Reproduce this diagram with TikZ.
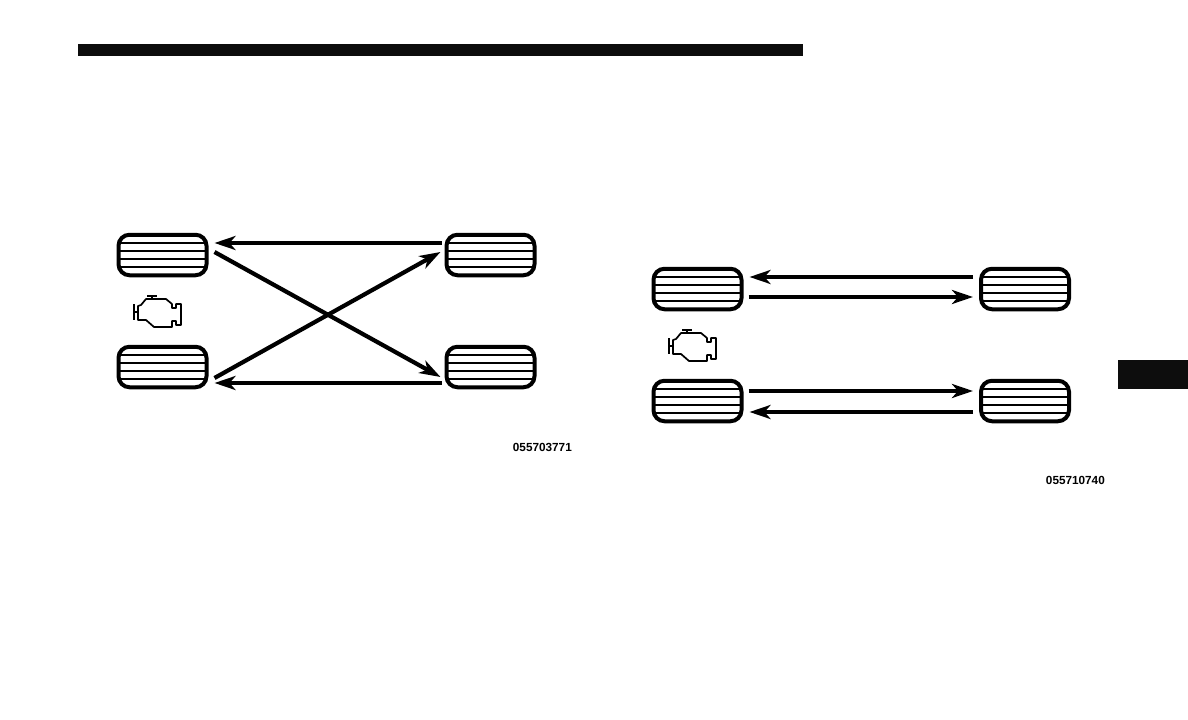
\documentclass[tikz,border=0pt]{standalone}
\usepackage{fontspec}
\setmainfont{Liberation Sans}
\usetikzlibrary{arrows.meta}

\begin{document}
\begin{tikzpicture}[x=1bp,y=-1bp,
  tire/.style={draw,line width=4bp,rounded corners=11bp,minimum width=88bp,minimum height=40.5bp,inner sep=0pt},
  tirestripe/.style={line width=2bp,shorten >=1bp,shorten <=1bp},
  rotarrow/.style={line width=3.6bp,-{Stealth[length=21bp,width=14bp,inset=6bp]}},
  slantarrow/.style={rotarrow,line width=4.2bp},
  partno/.style={anchor=east,inner sep=0pt,font=\fontsize{11.8}{14}\selectfont\bfseries},
  engine/.pic={
    \draw[line width=1.7bp,line join=round] (5,10) -- (8,9) -- (13,3) -- (33,3) -- (39,8) -- (39,12) -- (43,12) -- (43,8) -- (48,8) -- (48,29) -- (43,29) -- (43,25) -- (39,25) -- (39,31) -- (21,31) -- (13,24) -- (5,24) -- cycle;
    \draw[line width=2bp] (0.5,8) -- (0.5,24);
    \draw[line width=1.7bp] (0.5,16) -- (5,16);
    \draw[line width=2.2bp] (14,0) -- (24,0);
    \draw[line width=2.2bp] (19,0) -- (19,3);
  }]

% Page
\fill[white] (0,0) rectangle (1188,720);
\useasboundingbox (0,0) rectangle (1188,720);

% Header bar and side tab
\fill[black!95] (78,44) rectangle (803,56);
\fill[black!95] (1118,360) rectangle (1188,389);

% Tires, left layout
\node[tire] (tireA) at (162.5,255) {};
\node[tire] (tireB) at (490.5,255) {};
\node[tire] (tireC) at (162.5,367) {};
\node[tire] (tireD) at (490.5,367) {};

% Tires, right layout
\node[tire] (tireE) at (697.5,289) {};
\node[tire] (tireF) at (1025,289) {};
\node[tire] (tireG) at (697.5,401) {};
\node[tire] (tireH) at (1025,401) {};

% Tread lines
\foreach \tirename in {tireA,tireB,tireC,tireD,tireE,tireF,tireG,tireH}{
  \foreach \stripe in {12,4,-4,-12}{
    \draw[tirestripe] ([yshift=\stripe bp]\tirename.west) -- ([yshift=\stripe bp]\tirename.east);
  }
}

% Engine marks
\pic at (133,296) {engine};
\pic at (668,330) {engine};

% Rotation arrows, left layout
\draw[rotarrow] ([xshift=-3bp,yshift=12bp]tireB.west) -- ([xshift=6bp,yshift=12bp]tireA.east);
\draw[rotarrow] ([xshift=-3bp,yshift=-16bp]tireD.west) -- ([xshift=6bp,yshift=-16bp]tireC.east);
\draw[slantarrow] ([xshift=6bp,yshift=3bp]tireA.east) -- ([xshift=-4bp,yshift=-10bp]tireD.west);
\draw[slantarrow] ([xshift=6bp,yshift=-11bp]tireC.east) -- ([xshift=-4bp,yshift=3bp]tireB.west);

% Rotation arrows, right layout
\draw[rotarrow] ([xshift=-6bp,yshift=12bp]tireF.west) -- ([xshift=6bp,yshift=12bp]tireE.east);
\draw[rotarrow] ([xshift=5bp,yshift=-8bp]tireE.east) -- ([xshift=-6bp,yshift=-8bp]tireF.west);
\draw[rotarrow] ([xshift=5bp,yshift=10bp]tireG.east) -- ([xshift=-6bp,yshift=10bp]tireH.west);
\draw[rotarrow] ([xshift=-6bp,yshift=-11bp]tireH.west) -- ([xshift=6bp,yshift=-11bp]tireG.east);

% Part numbers
\node[partno] (numA) at (572,447) {055703771};
\node[partno] (numB) at (1105,480) {055710740};

\end{tikzpicture}
\end{document}
